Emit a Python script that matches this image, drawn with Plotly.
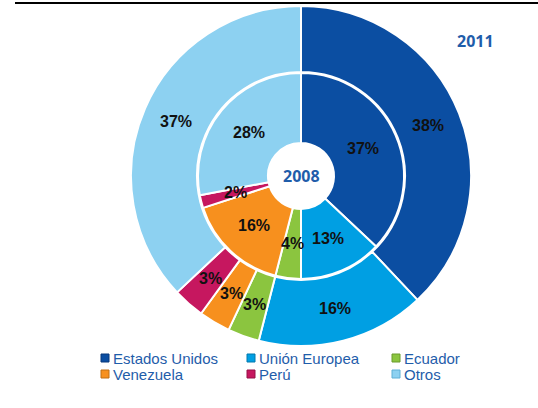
import math
import plotly.graph_objects as go

# Export destinations: share of total (%)
categories = ["Estados Unidos", "Unión Europea", "Ecuador", "Venezuela", "Perú", "Otros"]
share_2011 = [38, 16, 3, 3, 3, 37]
share_2008 = [37, 13, 4, 16, 2, 28]
colors = ["#0B4EA2", "#009FE3", "#8BC53F", "#F7901E", "#C6175F", "#8DD1F1"]
border_colors = ["#08397A", "#0078AD", "#6A9A2C", "#C06E12", "#951046", "#5FAFD6"]

W, H = 538, 408
CX, CY = 301, 176          # donut centre (px)
R_OUT, R_MID, R_HOLE = 170, 103, 33

TEXT_BLUE = "#1F5DAA"


def domain(r):
    return dict(x=[(CX - r) / W, (CX + r) / W],
                y=[(H - CY - r) / H, (H - CY + r) / H])


fig = go.Figure()
fig.add_trace(go.Pie(
    labels=categories, values=share_2011, sort=False, direction="clockwise",
    rotation=0, hole=(R_MID + 1) / R_OUT, domain=domain(R_OUT),
    marker=dict(colors=colors, line=dict(color="white", width=2)),
    textinfo="none", hoverinfo="label+percent", showlegend=False, name="2011"))
fig.add_trace(go.Pie(
    labels=categories, values=share_2008, sort=False, direction="clockwise",
    rotation=0, hole=R_HOLE / R_MID, domain=domain(R_MID),
    marker=dict(colors=colors, line=dict(color="white", width=2)),
    textinfo="none", hoverinfo="label+percent", showlegend=False, name="2008"))


def ring_labels(values, r_in, r_out):
    total = sum(values)
    acc = 0
    r = (r_in + r_out) / 2
    for v in values:
        mid = (acc + v / 2) / total * 2 * math.pi
        acc += v
        x = CX + r * math.sin(mid)
        y = CY - r * math.cos(mid)
        fig.add_annotation(x=x / W, y=1 - y / H, xref="paper", yref="paper",
                           xanchor="center", yanchor="middle",
                           text=f"<b>{v}%</b>", showarrow=False,
                           font=dict(family="Liberation Sans, Arial", size=16, color="#111111"))


ring_labels(share_2011, R_MID, R_OUT)
ring_labels(share_2008, R_HOLE, R_MID)

# Year labels
fig.add_annotation(x=CX / W, y=1 - CY / H, xref="paper", yref="paper", text="<b>2008</b>",
                   xanchor="center", yanchor="middle",
                   showarrow=False, font=dict(family="Open Sans", size=16, color=TEXT_BLUE))
fig.add_annotation(x=475 / W, y=1 - 41 / H, xref="paper", yref="paper", text="<b>2011</b>",
                   xanchor="center", yanchor="middle",
                   showarrow=False, font=dict(family="Open Sans", size=16, color=TEXT_BLUE))

# Legend drawn as coloured squares and text, three columns by two rows
col_x = [101, 247, 392]
row_y = [358, 374]
for i, (name, c, bc) in enumerate(zip(categories, colors, border_colors)):
    x0 = col_x[i % 3]
    yc = row_y[i // 3]
    fig.add_shape(type="rect", xref="paper", yref="paper",
                  x0=x0 / W, x1=(x0 + 8) / W, y0=1 - (yc + 4) / H, y1=1 - (yc - 4) / H,
                  fillcolor=c, line=dict(color=bc, width=1))
    fig.add_annotation(x=(x0 + 10) / W, y=1 - yc / H, xref="paper", yref="paper",
                       text=name, showarrow=False, xanchor="left", yanchor="middle",
                       font=dict(family="Liberation Sans, Arial", size=15, color=TEXT_BLUE))

# Rule across the top
fig.add_shape(type="line", xref="paper", yref="paper", x0=15 / W, x1=1,
              y0=1 - 3 / H, y1=1 - 3 / H, line=dict(color="black", width=2))

fig.update_layout(width=W, height=H, margin=dict(l=0, r=0, t=0, b=0),
                  paper_bgcolor="white", plot_bgcolor="white", showlegend=False)

fig.write_html("out.html")
